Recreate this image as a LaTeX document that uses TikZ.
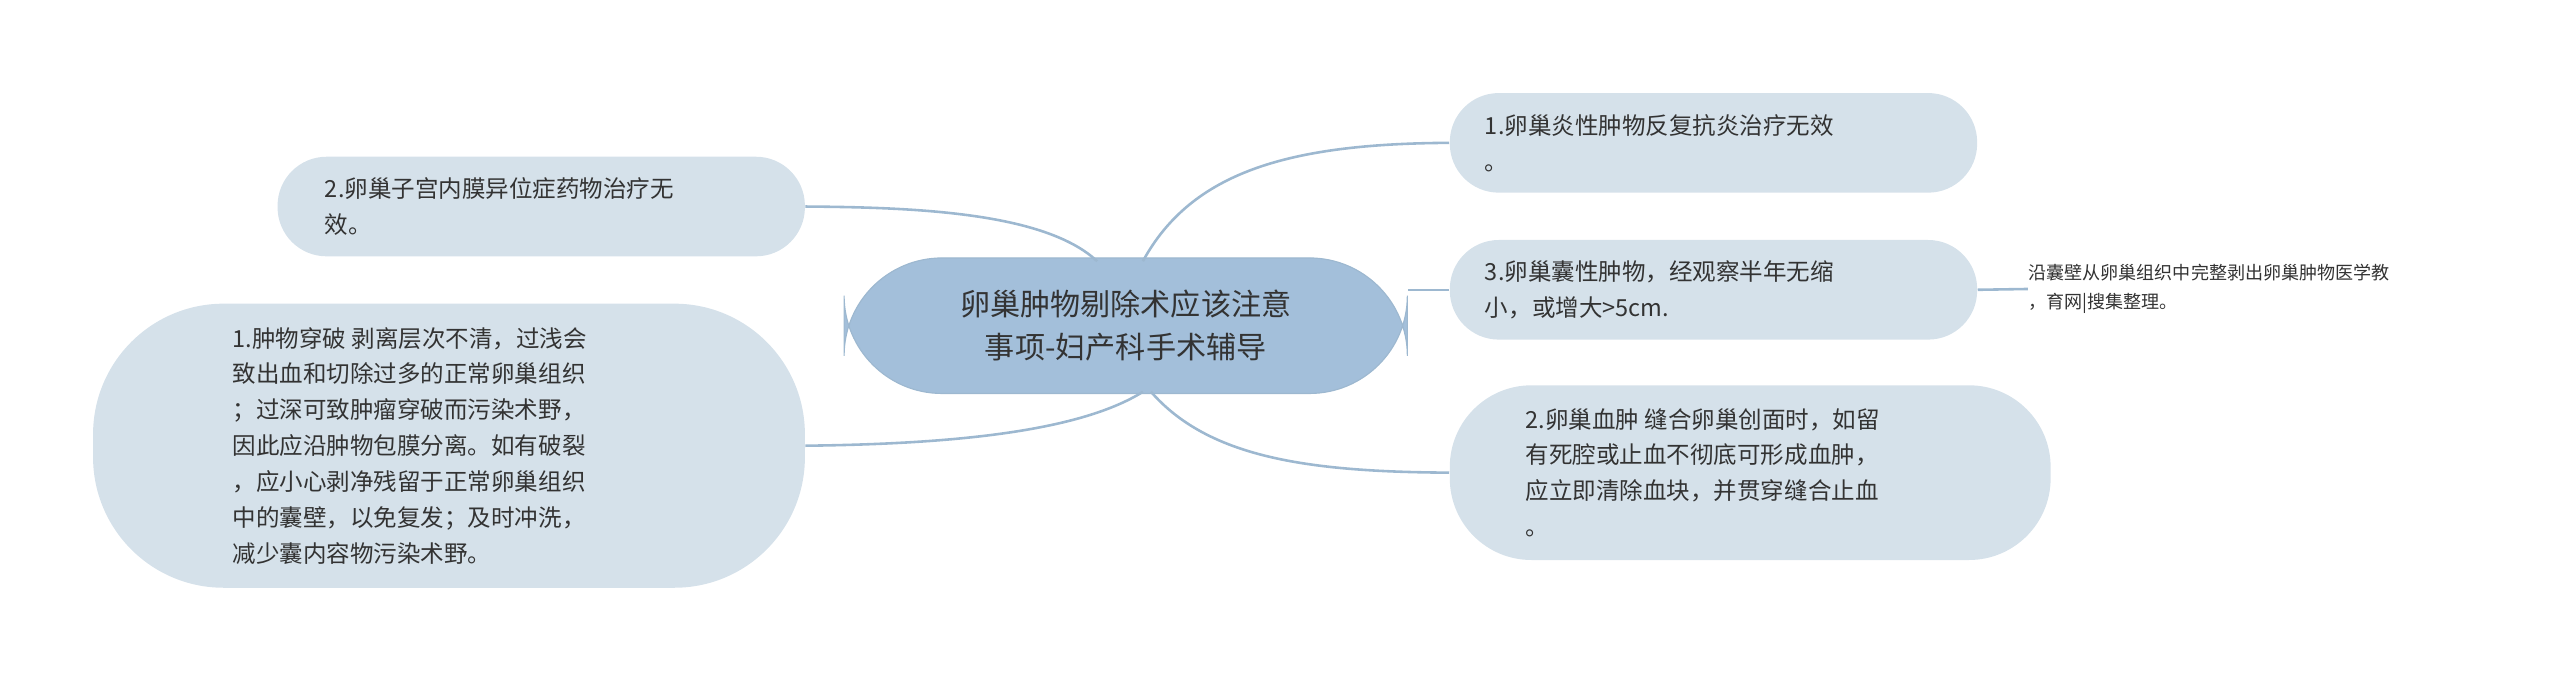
\documentclass[tikz,border=0pt]{standalone}
\usepackage{fontspec}
\setmainfont{Noto Sans CJK SC}
\begin{document}
\begin{tikzpicture}[x=0.02cm,y=-0.02cm,
  leaf/.style={fill=leafc,draw=none,align=left,font=\fontsize{8.2pt}{12.5pt}\selectfont,text=black!80,inner sep=0pt},
  conn/.style={draw=linec,line width=0.9pt}]
\definecolor{leafc}{HTML}{D5E1EA}
\definecolor{rootc}{HTML}{A3BFDA}
\definecolor{linec}{HTML}{9DB8D0}
\useasboundingbox (0,0) rectangle (1568,415);
\node[fill=rootc,draw=linec,rounded corners=1.2cm,minimum width=345*0.02cm,minimum height=83*0.02cm,align=center,font=\fontsize{10.5pt}{15pt}\selectfont,text=black!80] (root) at (689.5,199.5) {卵巢肿物剔除术应该注意\\事项-妇产科手术辅导};
\node[leaf,rounded corners=0.6cm,minimum width=323*0.02cm,minimum height=61*0.02cm] (lt) at (331.5,126.5) {\parbox{5.3cm}{2.卵巢子宫内膜异位症药物治疗无\\效。}};
\node[leaf,rounded corners=1.6cm,minimum width=436*0.02cm,minimum height=174*0.02cm] (lb) at (275,273) {\parbox{5.3cm}{1.肿物穿破 剥离层次不清，过浅会\\致出血和切除过多的正常卵巢组织\\；过深可致肿瘤穿破而污染术野，\\因此应沿肿物包膜分离。如有破裂\\，应小心剥净残留于正常卵巢组织\\中的囊壁，以免复发；及时冲洗，\\减少囊内容物污染术野。}};
\node[leaf,rounded corners=0.6cm,minimum width=323*0.02cm,minimum height=61*0.02cm] (r1) at (1049.5,87.5) {\parbox{5.6cm}{1.卵巢炎性肿物反复抗炎治疗无效\\。}};
\node[leaf,rounded corners=0.6cm,minimum width=323*0.02cm,minimum height=61*0.02cm] (r2) at (1049.5,177.5) {\parbox{5.6cm}{3.卵巢囊性肿物，经观察半年无缩\\小，或增大>5cm.}};
\node[leaf,rounded corners=1.0cm,minimum width=368*0.02cm,minimum height=107*0.02cm] (r4) at (1072,289.5) {\parbox{5.5cm}{2.卵巢血肿 缝合卵巢创面时，如留\\有死腔或止血不彻底可形成血肿，\\应立即清除血块，并贯穿缝合止血\\。}};
\node[align=left,font=\fontsize{6.3pt}{10pt}\selectfont,text=black!80,inner sep=0pt,anchor=west] (r3) at (1242,177) {沿囊壁从卵巢组织中完整剥出卵巢肿物医学教\\，育网|搜集整理。};
\coordinate (c1) at (700,160);
\coordinate (c2) at (672,160);
\coordinate (c3) at (700,240);
\coordinate (c4) at (705,240);
\draw[conn] (c1) .. controls (730,105) and (790,88) .. (r1.west);
\draw[conn] (root.east|-r2.west) -- (r2.west);
\draw[conn] (c2) .. controls (640,130) and (560,127) .. (lt.east);
\draw[conn] (c3) .. controls (660,265) and (580,272) .. (lb.east);
\draw[conn] (c4) .. controls (740,280) and (800,289) .. (r4.west);
\draw[conn] (r2.east) -- (r3.west);
\end{tikzpicture}
\end{document}
